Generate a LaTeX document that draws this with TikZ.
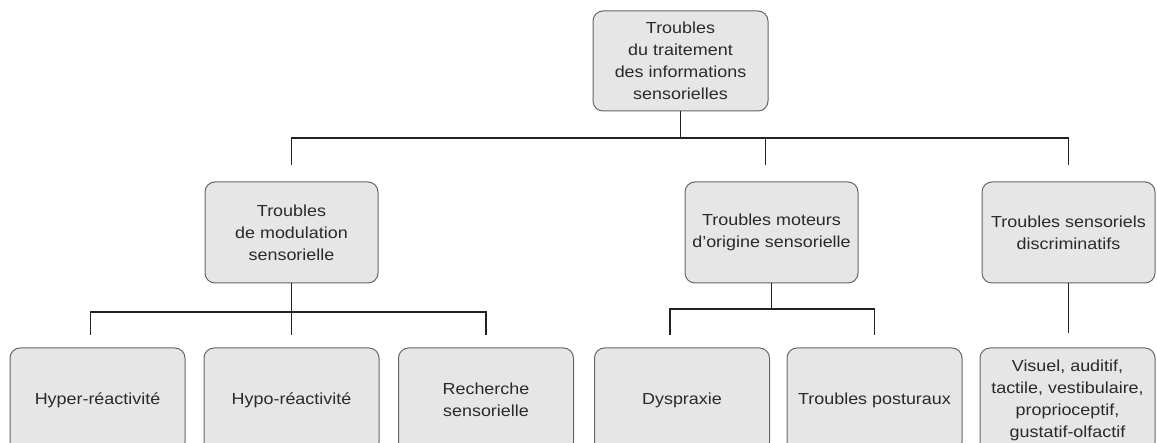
\documentclass[tikz,border=0pt]{standalone}
\usepackage{fontspec}
\setmainfont[FakeStretch=1.12]{Liberation Sans}
\usetikzlibrary{calc}
\definecolor{boxfill}{HTML}{E6E6E6}
\definecolor{boxline}{HTML}{666666}
\definecolor{txt}{HTML}{2A2A2A}
\definecolor{conncol}{HTML}{222222}
\tikzset{
  box/.style={draw=boxline, fill=boxfill, rounded corners=10pt, line width=1pt,
    minimum width=173pt, minimum height=101pt, align=center, inner sep=0pt,
    text=txt, font=\fontsize{16}{22}\selectfont},
  lowbox/.style={box, minimum width=175pt, minimum height=104pt},
  conn/.style={draw=conncol, line width=1.3pt}
}
\begin{document}
\begin{tikzpicture}[x=1pt,y=-1pt]
\useasboundingbox (0,0) rectangle (1157,443);
\clip (0,0) rectangle (1157,443);
% helper levels
\coordinate (L1) at (0,138);
\coordinate (D1) at (0,165);
\coordinate (L2) at (0,312);
\coordinate (L3) at (0,309);
\coordinate (D2) at (0,335);
\coordinate (D3) at (0,333);
% nodes
\node[box, minimum width=175pt, minimum height=100pt] (top) at (680.5,61) {Troubles\\du traitement\\des informations\\sensorielles};
\node[box] (mod) at (291.5,232.5) {Troubles\\de modulation\\sensorielle};
\node[box] (mot) at (771.5,232.5) {Troubles moteurs\\d’origine sensorielle};
\node[box] (dis) at (1068.5,232.5) {Troubles sensoriels\\discriminatifs};
\node[lowbox] (hyper) at (97.5,400) {Hyper-réactivité};
\node[lowbox] (hypo) at (291.5,400) {Hypo-réactivité};
\node[lowbox] (rech) at (486,400) {Recherche\\sensorielle};
\node[lowbox] (dys) at (682,400) {Dyspraxie};
\node[lowbox] (post) at (874.5,400) {Troubles posturaux};
\node[lowbox] (vis) at (1067.5,400) {Visuel, auditif,\\tactile, vestibulaire,\\proprioceptif,\\gustatif-olfactif};
% level 1 connectors
\draw[conn] (top.south) -- (top.south |- L1);
\draw[conn] (mod.north |- D1) -- (mod.north |- L1) -- (dis.north |- L1) -- (dis.north |- D1);
\draw[conn] ($(mot.north |- L1)+(-6,0)$) -- ($(mot.north |- D1)+(-6,0)$);
% modulation children
\draw[conn] (mod.south) -- (mod.south |- L2);
\draw[conn] ($(hyper.north |- D2)+(-7,0)$) -- ($(hyper.north |- L2)+(-7,0)$) -- (rech.north |- L2) -- (rech.north |- D2);
\draw[conn] (hypo.north |- L2) -- (hypo.north |- D2);
% moteurs children
\draw[conn] (mot.south) -- (mot.south |- L3);
\draw[conn] ($(dys.north |- D2)+(-12,0)$) -- ($(dys.north |- L3)+(-12,0)$) -- (post.north |- L3) -- (post.north |- D2);
% discriminatifs child
\draw[conn] (dis.south) -- (dis.south |- D3);
\end{tikzpicture}
\end{document}
